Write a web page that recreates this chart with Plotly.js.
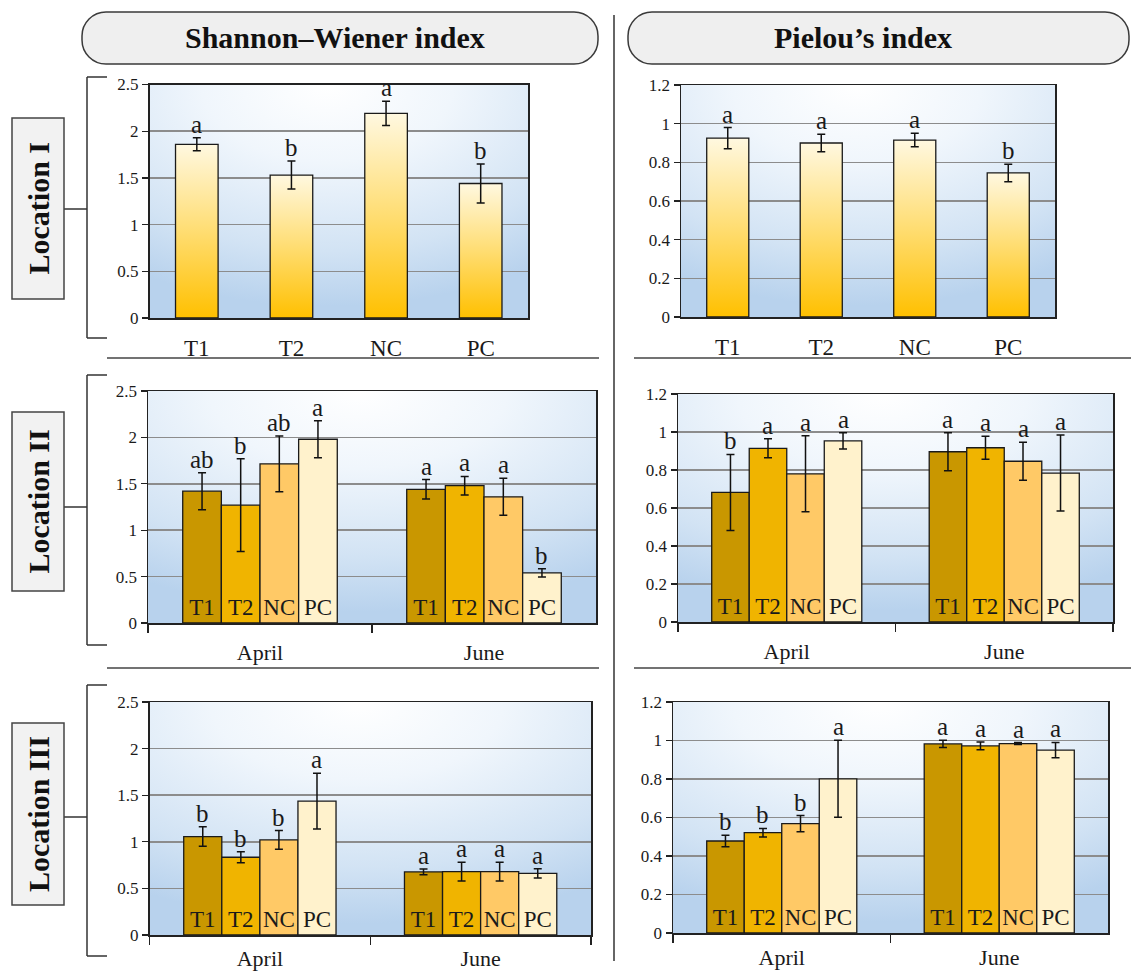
<!DOCTYPE html>
<html>
<head>
<meta charset="utf-8">
<script src="https://cdn.plot.ly/plotly-3.0.1.min.js"></script>
<style>
  html, body { margin: 0; padding: 0; background: #ffffff; }
  #chart { width: 1131px; height: 975px; }
</style>
</head>
<body>
<div id="chart"></div>
<script>
// ---- data ----
const treatments = ['T1', 'T2', 'NC', 'PC'];
const months = ['April', 'June'];

// Location I (single sampling)
const shannonLoc1 = [1.86, 1.53, 2.19, 1.44];
const shannonLoc1Err = [0.07, 0.15, 0.13, 0.21];
const shannonLoc1Sig = ['a', 'b', 'a', 'b'];
const pielouLoc1 = [0.925, 0.90, 0.915, 0.745];
const pielouLoc1Err = [0.055, 0.045, 0.035, 0.045];
const pielouLoc1Sig = ['a', 'a', 'a', 'b'];

// Location II
const shannonLoc2April = [1.42, 1.27, 1.715, 1.98];
const shannonLoc2AprilErr = [0.2, 0.5, 0.3, 0.2];
const shannonLoc2AprilSig = ['ab', 'b', 'ab', 'a'];
const shannonLoc2June = [1.44, 1.48, 1.36, 0.54];
const shannonLoc2JuneErr = [0.105, 0.1, 0.2, 0.045];
const shannonLoc2JuneSig = ['a', 'a', 'a', 'b'];
const pielouLoc2April = [0.682, 0.914, 0.78, 0.953];
const pielouLoc2AprilErr = [0.2, 0.05, 0.2, 0.043];
const pielouLoc2AprilSig = ['b', 'a', 'a', 'a'];
const pielouLoc2June = [0.896, 0.917, 0.846, 0.784];
const pielouLoc2JuneErr = [0.1, 0.06, 0.1, 0.2];
const pielouLoc2JuneSig = ['a', 'a', 'a', 'a'];

// Location III
const shannonLoc3April = [1.056, 0.834, 1.02, 1.436];
const shannonLoc3AprilErr = [0.105, 0.06, 0.1, 0.3];
const shannonLoc3AprilSig = ['b', 'b', 'b', 'a'];
const shannonLoc3June = [0.677, 0.68, 0.68, 0.662];
const shannonLoc3JuneErr = [0.03, 0.1, 0.1, 0.05];
const shannonLoc3JuneSig = ['a', 'a', 'a', 'a'];
const pielouLoc3April = [0.478, 0.521, 0.568, 0.801];
const pielouLoc3AprilErr = [0.03, 0.022, 0.042, 0.2];
const pielouLoc3AprilSig = ['b', 'b', 'b', 'a'];
const pielouLoc3June = [0.982, 0.972, 0.984, 0.95];
const pielouLoc3JuneErr = [0.019, 0.02, 0.005, 0.04];
const pielouLoc3JuneSig = ['a', 'a', 'a', 'a'];

const indexTitles = ['Shannon–Wiener index', 'Pielou’s index'];
const locationNames = ['Location I', 'Location II', 'Location III'];

// ---- styling ----
const W = 1131, H = 975;
const FONT = 'Liberation Serif, Times New Roman, serif';
const INK = '#1a1a1a';
const barColors = ['#C99700', '#F0B400', '#FFC966', '#FFF2CC'];
const BARGAP = 0.31;
const SINGLE_HALF_WIDTH = 0.225;

const px = x => x / W;
const py = y => 1 - y / H;
const dom = (a, b) => [a / W, b / W];
const vdom = (top, bottom) => [1 - bottom / H, 1 - top / H];

const traces = [];
const annotations = [];
const shapes = [];
const images = [];
const layout = {
  width: W, height: H,
  margin: { l: 0, r: 0, t: 0, b: 0 },
  paper_bgcolor: '#ffffff',
  plot_bgcolor: 'rgba(0,0,0,0)',
  showlegend: false,
  barmode: 'group',
  bargap: BARGAP,
  bargroupgap: 0,
  font: { family: FONT, color: INK },
  hovermode: false
};

// soft radial background behind each plotting area
const bgSvg = "<svg xmlns='http://www.w3.org/2000/svg' width='400' height='250' viewBox='0 0 400 250' preserveAspectRatio='none'>" +
  "<defs><radialGradient id='g' cx='0.47' cy='0.0' r='0.95' fx='0.47' fy='0.0'>" +
  "<stop offset='0' stop-color='#ffffff'/><stop offset='0.35' stop-color='#f0f6fc'/>" +
  "<stop offset='0.75' stop-color='#d2e3f4'/><stop offset='1' stop-color='#b8d2ed'/></radialGradient></defs>" +
  "<rect width='400' height='250' fill='url(#g)'/></svg>";
const bgSrc = 'data:image/svg+xml;charset=utf-8,' + encodeURIComponent(bgSvg);

function addBackground(l, r, t, b) {
  images.push({
    source: bgSrc, xref: 'paper', yref: 'paper',
    x: px(l), y: py(t), sizex: (r - l) / W, sizey: (b - t) / H,
    xanchor: 'left', yanchor: 'top', sizing: 'stretch', layer: 'below'
  });
}

function yAxis(n, xName, t, b, max, dtick) {
  layout['yaxis' + (n === 1 ? '' : n)] = {
    domain: vdom(t, b), anchor: xName, range: [0, max], dtick: dtick, tick0: 0,
    showgrid: true, gridcolor: '#8c8c8c', gridwidth: 1.5, zeroline: false,
    showline: true, linecolor: '#222', linewidth: 1.5, mirror: true,
    ticks: 'outside', ticklen: 6, tickwidth: 1.2, tickcolor: '#222',
    tickfont: { family: FONT, size: 17, color: INK }, fixedrange: true
  };
}

function letter(xref, yref, x, y, text) {
  annotations.push({
    xref: xref, yref: yref, x: x, y: y, text: text, showarrow: false,
    yanchor: 'bottom', xanchor: 'center', yshift: -2,
    font: { family: FONT, size: 25, color: INK }
  });
}

// Location I panels: gradient-filled bars on a treatment axis
function singlePanel(n, box, max, dtick, vals, errs, sigs) {
  const xName = 'x' + (n === 1 ? '' : n), yName = 'y' + (n === 1 ? '' : n);
  layout['xaxis' + (n === 1 ? '' : n)] = {
    domain: dom(box.l, box.r), anchor: yName, range: [-0.5, treatments.length - 0.5],
    tickvals: treatments.map((_, i) => i), ticktext: treatments,
    showgrid: false, zeroline: false, showline: true, linecolor: '#222', linewidth: 1.5, mirror: true,
    ticks: '', ticklabelstandoff: 9, tickfont: { family: FONT, size: 23, color: INK }, fixedrange: true
  };
  yAxis(n, xName, box.t, box.b, max, dtick);
  addBackground(box.l, box.r, box.t, box.b);
  vals.forEach((v, i) => {
    const a = i - SINGLE_HALF_WIDTH, c = i + SINGLE_HALF_WIDTH;
    traces.push({
      type: 'scatter', mode: 'lines', xaxis: xName, yaxis: yName,
      x: [a, a, c, c, a], y: [0, v, v, 0, 0], fill: 'toself',
      fillgradient: { type: 'vertical', colorscale: [[0, '#FFC000'], [0.5, '#FFDD72'], [1, '#FFF8E0']] },
      line: { color: INK, width: 1.3 }, hoverinfo: 'skip'
    });
    letter(xName, yName, i, v + errs[i], sigs[i]);
  });
  traces.push({
    type: 'scatter', mode: 'markers', xaxis: xName, yaxis: yName,
    x: treatments.map((_, i) => i), y: vals,
    marker: { size: 2, color: 'rgba(0,0,0,0)' },
    error_y: { type: 'data', array: errs, visible: true, color: '#111', thickness: 1.5, width: 4 },
    hoverinfo: 'skip'
  });
}

// Locations II and III: grouped bars by sampling month
function groupedPanel(n, box, max, dtick, standoff, april, aprilErr, aprilSig, june, juneErr, juneSig) {
  const xName = 'x' + (n === 1 ? '' : n), yName = 'y' + (n === 1 ? '' : n);
  layout['xaxis' + n] = {
    domain: dom(box.l, box.r), anchor: yName, type: 'category', categoryarray: months,
    tickson: 'boundaries', ticks: 'outside', ticklen: 8, tickwidth: 1.5, tickcolor: '#222',
    showgrid: false, zeroline: false, showline: true, linecolor: '#222', linewidth: 1.5, mirror: true,
    ticklabelstandoff: standoff, tickfont: { family: FONT, size: 22, color: INK }, fixedrange: true
  };
  yAxis(n, xName, box.t, box.b, max, dtick);
  addBackground(box.l, box.r, box.t, box.b);
  const series = [[april, aprilErr, aprilSig], [june, juneErr, juneSig]];
  const slot = (1 - BARGAP) / treatments.length;
  treatments.forEach((t, k) => {
    traces.push({
      type: 'bar', xaxis: xName, yaxis: yName, name: t,
      x: months, y: series.map(s => s[0][k]),
      marker: { color: barColors[k], line: { color: INK, width: 1.3 } },
      error_y: { type: 'data', array: series.map(s => s[1][k]), visible: true, color: '#111', thickness: 1.5, width: 4 },
      text: months.map(() => t), textposition: 'inside', insidetextanchor: 'start', textangle: 0,
      insidetextfont: { family: FONT, size: 23, color: INK }, hoverinfo: 'skip'
    });
    series.forEach((s, m) => {
      letter(xName, yName, m - (1 - BARGAP) / 2 + (k + 0.5) * slot, s[0][k] + s[1][k], s[2][k]);
    });
  });
}

singlePanel(1, { l: 149.5, r: 528, t: 84.5, b: 318 }, 2.5, 0.5, shannonLoc1, shannonLoc1Err, shannonLoc1Sig);
singlePanel(2, { l: 681, r: 1055, t: 85, b: 317 }, 1.2, 0.2, pielouLoc1, pielouLoc1Err, pielouLoc1Sig);
groupedPanel(3, { l: 148, r: 596, t: 391, b: 623 }, 2.5, 0.5, 9,
  shannonLoc2April, shannonLoc2AprilErr, shannonLoc2AprilSig, shannonLoc2June, shannonLoc2JuneErr, shannonLoc2JuneSig);
groupedPanel(4, { l: 678, r: 1113, t: 394, b: 622 }, 1.2, 0.2, 9,
  pielouLoc2April, pielouLoc2AprilErr, pielouLoc2AprilSig, pielouLoc2June, pielouLoc2JuneErr, pielouLoc2JuneSig);
groupedPanel(5, { l: 149.5, r: 591, t: 702, b: 935 }, 2.5, 0.5, 3,
  shannonLoc3April, shannonLoc3AprilErr, shannonLoc3AprilSig, shannonLoc3June, shannonLoc3JuneErr, shannonLoc3JuneSig);
groupedPanel(6, { l: 673, r: 1108, t: 702, b: 933 }, 1.2, 0.2, 4,
  pielouLoc3April, pielouLoc3AprilErr, pielouLoc3AprilSig, pielouLoc3June, pielouLoc3JuneErr, pielouLoc3JuneSig);

// ---- frame decorations (pixel positions converted to paper space) ----
function line(x0, y0, x1, y1, color, width) {
  shapes.push({ type: 'line', xref: 'paper', yref: 'paper', x0: px(x0), y0: py(y0), x1: px(x1), y1: py(y1),
    line: { color: color || '#333', width: width || 1.5 } });
}
function roundBox(x0, y0, x1, y1, r) {
  const k = 0.5523 * r;
  const P = (x, y) => px(x) + ',' + py(y);
  const d = 'M' + P(x0 + r, y0) + ' L' + P(x1 - r, y0) +
    ' C' + P(x1 - r + k, y0) + ' ' + P(x1, y0 + r - k) + ' ' + P(x1, y0 + r) +
    ' L' + P(x1, y1 - r) +
    ' C' + P(x1, y1 - r + k) + ' ' + P(x1 - r + k, y1) + ' ' + P(x1 - r, y1) +
    ' L' + P(x0 + r, y1) +
    ' C' + P(x0 + r - k, y1) + ' ' + P(x0, y1 - r + k) + ' ' + P(x0, y1 - r) +
    ' L' + P(x0, y0 + r) +
    ' C' + P(x0, y0 + r - k) + ' ' + P(x0 + r - k, y0) + ' ' + P(x0 + r, y0) + ' Z';
  shapes.push({ type: 'path', xref: 'paper', yref: 'paper', path: d,
    fillcolor: '#efefef', line: { color: '#3a3a3a', width: 1.5 } });
}

// column headers
roundBox(82, 12, 598, 64, 24);
roundBox(628, 12, 1129, 64, 24);
[[335, indexTitles[0]], [863, indexTitles[1]]].forEach(([x, t]) => {
  annotations.push({ xref: 'paper', yref: 'paper', x: px(x), y: py(38), text: '<b>' + t + '</b>',
    showarrow: false, xanchor: 'center', yanchor: 'middle', font: { family: FONT, size: 30, color: '#111' } });
});

// vertical divider between the two indices
line(614, 15, 614, 961, '#333', 1.5);

// horizontal separators between locations
[358, 668].forEach(y => { line(107, y, 599, y, '#444', 1.5); line(634, y, 1131, y, '#444', 1.5); });

// row labels with brackets
const rows = [
  { top: 77, bottom: 338, mid: 209, boxTop: 118, boxBottom: 299 },
  { top: 375, bottom: 645, mid: 507, boxTop: 412, boxBottom: 591 },
  { top: 685, bottom: 956, mid: 817, boxTop: 723, boxBottom: 905 }
];
rows.forEach((r, i) => {
  line(87, r.top, 87, r.bottom);
  line(87, r.top, 107, r.top);
  line(87, r.bottom, 107, r.bottom);
  line(64, r.mid, 87, r.mid);
  shapes.push({ type: 'rect', xref: 'paper', yref: 'paper', x0: px(12), x1: px(64), y0: py(r.boxBottom), y1: py(r.boxTop),
    fillcolor: '#f2f2f2', line: { color: '#444', width: 1.5 } });
  annotations.push({ xref: 'paper', yref: 'paper', x: px(38), y: py((r.boxTop + r.boxBottom) / 2),
    text: '<b>' + locationNames[i] + '</b>', textangle: -90, showarrow: false,
    xanchor: 'center', yanchor: 'middle', font: { family: FONT, size: 30, color: '#111' } });
});

layout.annotations = annotations;
layout.shapes = shapes;
layout.images = images;

Plotly.newPlot('chart', traces, layout, { staticPlot: true, displayModeBar: false });
</script>
</body>
</html>
